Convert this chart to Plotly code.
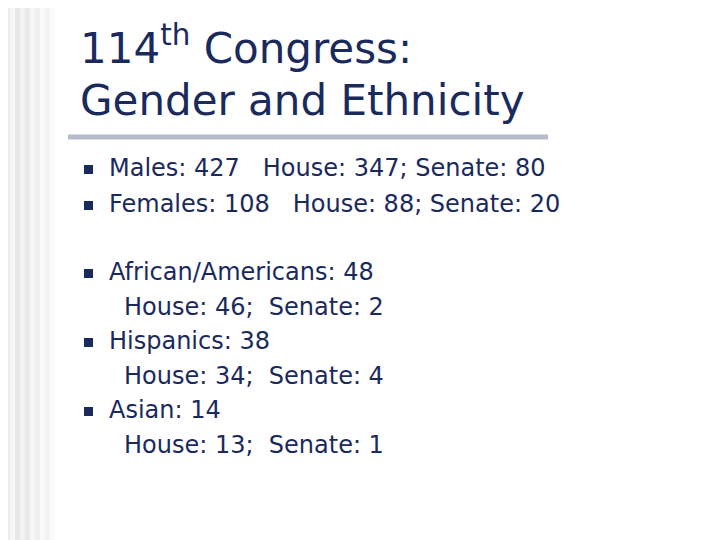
import plotly.graph_objects as go

title_lines = ["114<sup>th</sup> Congress:", "Gender and Ethnicity"]
bullet_lines = ["Males: 427   House: 347; Senate: 80",
                "Females: 108   House: 88; Senate: 20",
                "African/Americans: 48",
                "Hispanics: 38",
                "Asian: 14"]
bullet_y = [168, 204, 272, 341, 410]
sub_lines = ["House: 46;  Senate: 2", "House: 34;  Senate: 4", "House: 13;  Senate: 1"]
sub_y = [307, 376, 445]

navy = "#1b2a5c"
off = -8  # compensate page body margin
fig = go.Figure()
shapes = []
grays = ["#f4f4f4", "#ececec", "#f6f6f6", "#e8e8e8", "#f2f2f2", "#eaeaea", "#f7f7f7", "#efefef", "#f9f9f9", "#f3f3f3", "#fbfbfb"]
for i, g in enumerate(grays):
    shapes.append(dict(type="rect", xref="x", yref="y", x0=i*5+off, x1=i*5+5+off, y0=off, y1=540,
                       fillcolor=g, line_width=0, layer="below"))
shapes.append(dict(type="line", xref="x", yref="y", x0=68+off, x1=548+off, y0=137+off, y1=137+off,
                   line=dict(color="#b4bccb", width=5)))
ann = []
for t, y in zip(title_lines, [45, 100]):
    ann.append(dict(x=78+off, y=y+off, xref="x", yref="y", text=t, showarrow=False, xanchor="left",
                    yanchor="middle", font=dict(family="DejaVu Sans", size=42, color=navy)))
for t, y in zip(bullet_lines, bullet_y):
    ann.append(dict(x=107+off, y=y+off, xref="x", yref="y", text=t, showarrow=False, xanchor="left",
                    yanchor="middle", font=dict(family="DejaVu Sans", size=24, color=navy)))
    shapes.append(dict(type="rect", xref="x", yref="y", x0=84+off, x1=93+off, y0=y-3+off, y1=y+6+off,
                       fillcolor=navy, line_width=0))
for t, y in zip(sub_lines, sub_y):
    ann.append(dict(x=122+off, y=y+off, xref="x", yref="y", text=t, showarrow=False, xanchor="left",
                    yanchor="middle", font=dict(family="DejaVu Sans", size=24, color=navy)))

fig.update_layout(width=720, height=540, margin=dict(l=0, r=0, t=0, b=0),
                  plot_bgcolor="white", paper_bgcolor="white", shapes=shapes, annotations=ann,
                  xaxis=dict(range=[0, 720], visible=False, fixedrange=True),
                  yaxis=dict(range=[540, 0], visible=False, fixedrange=True),
                  showlegend=False)
fig.write_html("out.html")
